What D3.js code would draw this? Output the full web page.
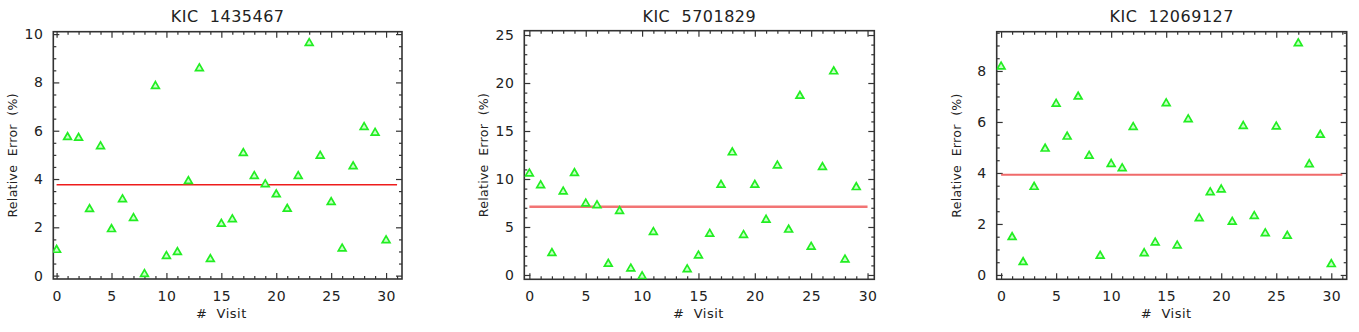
<!DOCTYPE html>
<html>
<head>
<meta charset="utf-8">
<script src="https://cdn.jsdelivr.net/npm/d3@7"></script>
<style>
  body { margin: 0; background: #fff; }
  svg { display: block; font-family: "DejaVu Sans", "Liberation Sans", Arial, sans-serif; }
  svg text { white-space: pre; }
  .tick text { fill: #222; }
</style>
</head>
<body>
<svg id="chart" width="1359" height="332"></svg>
<script>
// Relative error per visit for three KIC stars
var titles = ["KIC  1435467", "KIC  5701829", "KIC  12069127"];

var err_1435467 = [1.06, 5.73, 5.70, 2.75, 5.35, 1.92, 3.16, 2.38, 0.06, 7.85,
    0.81, 0.97, 3.91, 8.58, 0.68, 2.14, 2.33, 5.07, 4.12, 3.78,
    3.36, 2.76, 4.12, 9.63, 4.96, 3.04, 1.12, 4.52, 6.15, 5.91, 1.46];
var err_5701829 = [10.56, 9.34, 2.27, 8.68, 10.60, 7.43, 7.25, 1.15, 6.66, 0.66,
    -0.15, 4.46, null, null, 0.59, 2.02, 4.29, 9.38, 12.76, 4.15,
    9.38, 5.75, 11.40, 4.71, 18.65, 2.93, 11.23, 21.2, 1.60, 9.14];
var err_12069127 = [8.17, 1.48, 0.50, 3.45, 4.95, 6.71, 5.42, 6.99, 4.67, 0.75,
    4.35, 4.18, 5.80, 0.85, 1.27, 6.73, 1.15, 6.10, 2.22, 3.24,
    3.35, 2.08, 5.84, 2.31, 1.63, 5.82, 1.53, 9.08, 4.34, 5.49, 0.42];

var meanErr = [3.76, 7.11, 3.93];
var meanSpan = [[0, 31], [0, 30], [0, 31]];

var xDomains = [[-0.3, 31.45], [-0.45, 30.6], [-0.4, 31.4]];
var yDomains = [[-0.14, 10.1], [-0.45, 25.45], [-0.17, 9.54]];
var yMajor = [[0, 2, 4, 6, 8, 10], [0, 5, 10, 15, 20, 25], [0, 2, 4, 6, 8]];
var yMinorStep = [0.5, 1, 0.5];
var xMajor = [0, 5, 10, 15, 20, 25, 30];

var series = [err_1435467, err_5701829, err_12069127];

var boxes = [
    {left: 53.3, right: 402, top: 31.7, bottom: 279},
    {left: 524.3, right: 874.3, top: 30.7, bottom: 279.3},
    {left: 996.7, right: 1346.7, top: 31.7, bottom: 279.3}
];
var lineStyle = [
    {color: "#ee1c1c", width: 1.5},
    {color: "#f27474", width: 2.5},
    {color: "#f06a6a", width: 2}
];

var svg = d3.select("#chart");

series.forEach(function(vals, k) {
    drawPanel(k, vals);
});

function minorTicks(domain, step) {
    var out = [];
    var start = Math.ceil(domain[0] / step) * step;
    for (var v = start; v <= domain[1] + 1e-9; v += step) out.push(+v.toFixed(4));
    return out;
}

function drawPanel(k, vals) {
    var b = boxes[k];
    var x = d3.scaleLinear().domain(xDomains[k]).range([b.left, b.right]);
    var y = d3.scaleLinear().domain(yDomains[k]).range([b.bottom, b.top]);
    var g = svg.append("g");

    var clipId = "clip" + k;
    g.append("defs").append("clipPath")
        .attr("id", clipId)
        .append("rect")
        .attr("x", b.left)
        .attr("y", b.top)
        .attr("width", b.right - b.left)
        .attr("height", b.bottom - b.top);

    var xMin = minorTicks(xDomains[k], 1).filter(function(v) { return v % 5 !== 0; });
    var yMin = minorTicks(yDomains[k], yMinorStep[k]).filter(function(v) {
        return yMajor[k].indexOf(v) < 0;
    });

    // inward ticks on all four sides
    function axisGroup(axis, tx, ty) {
        var a = g.append("g").attr("transform", "translate(" + tx + "," + ty + ")").call(axis);
        a.select(".domain").remove();
        a.selectAll("line").attr("stroke", "#333").attr("stroke-width", 1.2);
        return a;
    }

    var bx = axisGroup(d3.axisBottom(x).tickValues(xMajor).tickSizeInner(-6).tickSizeOuter(0).tickPadding(12), 0, b.bottom);
    bx.selectAll("text").attr("font-size", 14).attr("font-family", "DejaVu Sans").attr("letter-spacing", 0.5);
    axisGroup(d3.axisBottom(x).tickValues(xMin).tickSizeInner(-3).tickFormat(""), 0, b.bottom);
    axisGroup(d3.axisTop(x).tickValues(xMajor).tickSizeInner(-6).tickFormat(""), 0, b.top);
    axisGroup(d3.axisTop(x).tickValues(xMin).tickSizeInner(-3).tickFormat(""), 0, b.top);

    var ly = axisGroup(d3.axisLeft(y).tickValues(yMajor[k]).tickSizeInner(-6).tickSizeOuter(0).tickPadding(10), b.left, 0);
    ly.selectAll("text").attr("font-size", 14).attr("font-family", "DejaVu Sans").attr("letter-spacing", 0.5);
    axisGroup(d3.axisLeft(y).tickValues(yMin).tickSizeInner(-3).tickFormat(""), b.left, 0);
    axisGroup(d3.axisRight(y).tickValues(yMajor[k]).tickSizeInner(-6).tickFormat(""), b.right, 0);
    axisGroup(d3.axisRight(y).tickValues(yMin).tickSizeInner(-3).tickFormat(""), b.right, 0);

    // frame
    g.append("rect")
        .attr("x", b.left)
        .attr("y", b.top)
        .attr("width", b.right - b.left)
        .attr("height", b.bottom - b.top)
        .attr("fill", "none")
        .attr("stroke", "#333")
        .attr("stroke-width", 1.6);

    // mean line
    g.append("line")
        .attr("x1", x(meanSpan[k][0]))
        .attr("x2", x(meanSpan[k][1]))
        .attr("y1", y(meanErr[k]))
        .attr("y2", y(meanErr[k]))
        .attr("stroke", lineStyle[k].color)
        .attr("stroke-width", lineStyle[k].width);

    // points
    var pts = vals.map(function(v, i) { return {i: i, v: v}; })
        .filter(function(d) { return d.v !== null; });
    var tri = d3.symbol().type(d3.symbolTriangle).size(26);
    g.append("g")
        .attr("clip-path", "url(#" + clipId + ")")
        .selectAll("path")
        .data(pts)
        .enter().append("path")
        .attr("d", tri)
        .attr("transform", function(d) {
            return "translate(" + x(d.i) + "," + y(d.v) + ")";
        })
        .attr("fill", "#c8ffc8")
        .attr("stroke", "#22ee22")
        .attr("stroke-width", 1.7);

    // title and labels
    svg.append("text")
        .attr("x", (b.left + b.right) / 2)
        .attr("y", 22)
        .attr("text-anchor", "middle")
        .attr("font-size", 16)
        .attr("letter-spacing", 0.5)
        .attr("fill", "#222")
        .text(titles[k]);

    svg.append("text")
        .attr("x", x(15))
        .attr("y", 318)
        .attr("text-anchor", "middle")
        .attr("font-size", 13)
        .attr("letter-spacing", 0.5)
        .attr("fill", "#222")
        .text("#  Visit");

    svg.append("text")
        .attr("transform", "translate(" + (b.left - 36) + "," + ((b.top + b.bottom) / 2) + ") rotate(-90)")
        .attr("text-anchor", "middle")
        .attr("font-size", 12.5)
        .attr("letter-spacing", 0.3)
        .attr("fill", "#222")
        .text("Relative  Error  (%)");
}
</script>
</body>
</html>
